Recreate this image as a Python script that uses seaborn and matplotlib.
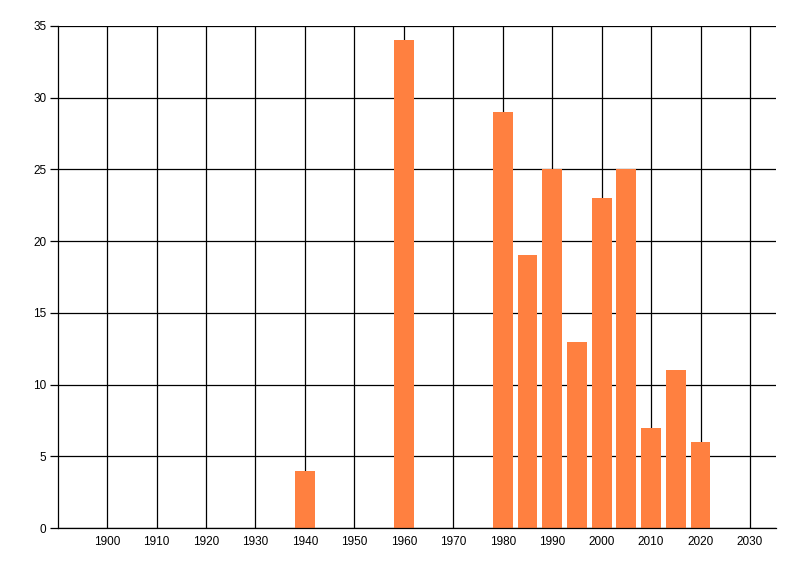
import matplotlib
matplotlib.use("Agg")
import matplotlib.pyplot as plt
import seaborn as sns
import pandas as pd

years = [1940, 1960, 1980, 1985, 1990, 1995, 2000, 2005, 2010, 2015, 2020]
counts = [4, 34, 29, 19, 25, 13, 23, 25, 7, 11, 6]
x_ticks = list(range(1900, 2031, 10))
y_ticks = list(range(0, 36, 5))

sns.set_style("white")
plt.rcParams['font.family'] = ['Liberation Sans', 'DejaVu Sans']

df = pd.DataFrame({"year": years, "count": counts})

fig = plt.figure(figsize=(8, 5.76), dpi=100)
ax = fig.add_axes([0.0721, 0.0833, 0.8975, 0.8716])
ax.set_axisbelow(True)
sns.barplot(data=df, x="year", y="count", native_scale=True, color="#FF8040",
            saturation=1, width=0.8, ax=ax, errorbar=None,
            edgecolor="none", linewidth=0)

ax.set_xlim(1890, 2035.2)
ax.set_ylim(0, 35)
ax.set_xticks(x_ticks)
ax.set_xticklabels([str(t) for t in x_ticks])
ax.set_yticks(y_ticks)
ax.set_yticklabels([str(t) for t in y_ticks])
ax.grid(True, color="black", linewidth=0.9)
ax.set_xlabel("")
ax.set_ylabel("")
for s in ["top", "right"]:
    ax.spines[s].set_visible(False)
for s in ["left", "bottom"]:
    ax.spines[s].set_color("black")
    ax.spines[s].set_linewidth(0.9)
ax.tick_params(axis="x", length=0, pad=6, labelsize=8.5, colors="black")
ax.tick_params(axis="y", length=6, width=0.9, pad=2, labelsize=8.5, colors="black", left=True)

fig.savefig("out.png", dpi=100)
